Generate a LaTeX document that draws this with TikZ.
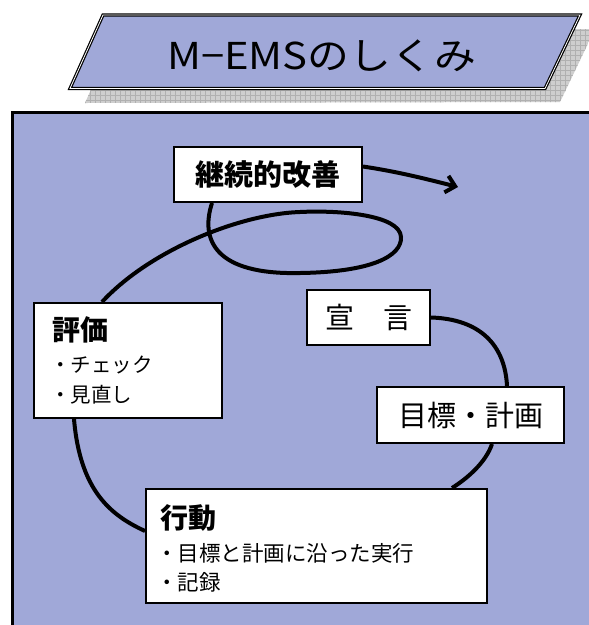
\documentclass[tikz,border=0pt]{standalone}
\usepackage{fontspec}
\setmainfont{Noto Sans CJK JP}
\usetikzlibrary{arrows.meta,calc}
\definecolor{lav}{RGB}{160,168,216}
\definecolor{shadowgray}{RGB}{206,206,206}
\definecolor{gridgray}{RGB}{176,176,176}
\begin{document}
\begin{tikzpicture}[x=1pt,y=-1pt,
  box/.style={draw=black, line width=2pt, fill=white, inner sep=0pt},
  flow/.style={line width=4pt},
  txt/.style={inner sep=0pt, anchor=west},
  bigtxt/.style={font=\fontsize{29}{29}\selectfont},
  boldtxt/.style={font=\bfseries\fontsize{29}{29}\selectfont},
  smalltxt/.style={font=\fontsize{20.5}{20.5}\selectfont},
  banner/.style={fill=lav, draw=black, line width=1.2pt, double=white, double distance=0.8pt, line join=miter}]
\useasboundingbox (0,0) rectangle (589,625);
\fill[white] (0,0) rectangle (589,625);
% shadow of the banner
\begin{scope}
  \clip (118,29) -- (595,29) -- (560,102) -- (85,103) -- cycle;
  \fill[shadowgray] (80,20) rectangle (600,110);
  \foreach \gx in {80,85,...,600} \draw[gridgray, line width=0.5pt] (\gx,20) -- (\gx,110);
  \foreach \gy in {20,25,...,110} \draw[gridgray, line width=0.5pt] (80,\gy) -- (600,\gy);
\end{scope}
% banner
\draw[banner] (103,15) -- (580,15) -- (545,88.5) -- (70,88.5) -- cycle;
\node[font=\fontsize{37}{37}\selectfont, inner sep=0pt, xscale=1.13] (title) at (322,56) {M−EMSのしくみ};
% main frame
\begin{scope}
  \clip (0,0) rectangle (589,625);
  \draw[line width=3pt, fill=lav] (12,112) rectangle (620,660);
\end{scope}
% boxes
\node[box, minimum width=188pt, minimum height=55pt, boldtxt] (kaizen) at (268,174.5) {継続的改善};
\node[box, minimum width=123pt, minimum height=55pt, bigtxt] (sengen) at (368.5,317.5) {宣　言};
\node[box, minimum width=187pt, minimum height=56pt, bigtxt] (mokuhyo) at (470.5,415) {目標・計画};
\node[box, minimum width=188pt, minimum height=115pt] (hyoka) at (128,360.5) {};
\node[box, minimum width=341pt, minimum height=114pt] (kodo) at (316.5,546) {};
% texts in the boxes
\node[txt, font=\bfseries\fontsize{28}{28}\selectfont] (hyokat) at (52,330) {評価};
\node[txt, smalltxt] (hyokaa) at (50,365) {・チェック};
\node[txt, smalltxt] (hyokab) at (50,395) {・見直し};
\node[txt, font=\bfseries\fontsize{28}{28}\selectfont] (kodot) at (160,518) {行動};
\node[txt, font=\fontsize{21.5}{21.5}\selectfont] (kodoa) at (156,553) {・目標と計画に沿った実行};
\node[txt, font=\fontsize{21.5}{21.5}\selectfont] (kodob) at (156,582) {・記録};
% connectors
\coordinate (arrowend) at (458,187);
\draw[flow, -{Straight Barb[length=9pt,width=17pt,line width=4pt]}]
  ($(kaizen.north east)!0.36!(kaizen.south east)$) .. controls (400,172) and (430,180) .. (arrowend);
\draw[flow]
  ($(kaizen.south west)+(39,0)$) .. controls (200,240) and (215,275) .. (300,273)
  .. controls (372,272) and (402,256) .. (401,237)
  .. controls (400,215) and (340,210) .. (300,212)
  .. controls (240,214) and (150,250) .. ($(hyoka.north west)+(69,0)$);
\draw[flow] (sengen.east) .. controls (480,319) and (505,345) .. ($(mokuhyo.north west)+(131,0)$);
\draw[flow] ($(mokuhyo.south west)+(116,0)$) .. controls (486,462) and (468,478) .. ($(kodo.north west)+(307,0)$);
\draw[flow] ($(hyoka.south west)+(41,0)$) .. controls (80,490) and (110,515) .. ($(kodo.north west)+(0,43)$);
\end{tikzpicture}
\end{document}
